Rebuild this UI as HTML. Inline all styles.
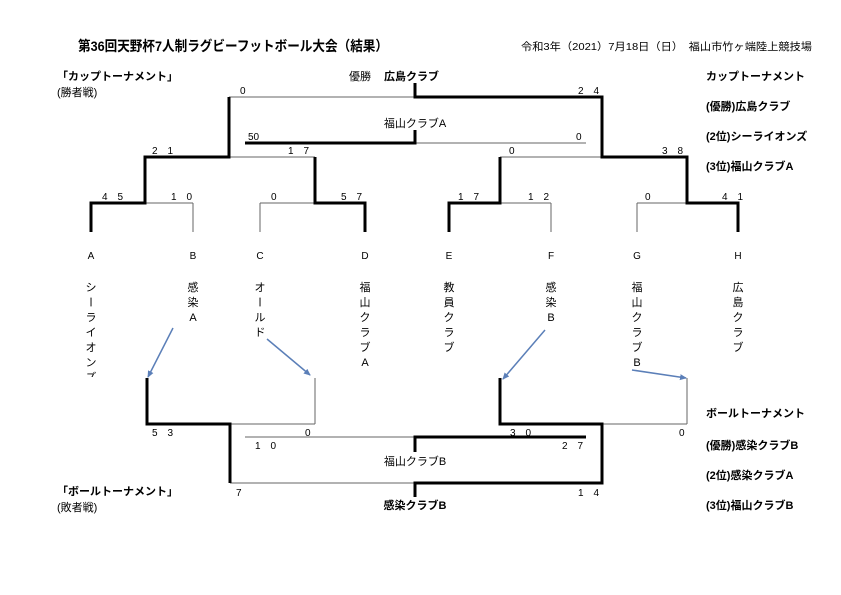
<!DOCTYPE html>
<html><head><meta charset="utf-8"><style>
html,body{margin:0;padding:0;background:#fff}
svg{display:block}
text{font-family:"Liberation Sans","Noto Sans CJK JP",sans-serif;fill:#000}
.b{font-weight:bold}
</style></head><body>
<svg width="841" height="595" viewBox="0 0 841 595" xmlns="http://www.w3.org/2000/svg">
<defs><marker id="ar" markerWidth="8" markerHeight="8" refX="6" refY="3" orient="auto" markerUnits="userSpaceOnUse"><path d="M0,0 L7,3 L0,6 z" fill="#5b7fb8"/></marker></defs>
<text x="78" y="51" font-size="14" class="b" textLength="310" lengthAdjust="spacingAndGlyphs">第36回天野杯7人制ラグビーフットボール大会（結果）</text>
<text x="521" y="50" font-size="10.5" textLength="291" lengthAdjust="spacingAndGlyphs">令和3年（2021）7月18日（日）　福山市竹ヶ端陸上競技場</text>
<text x="57" y="80" font-size="11" class="b">「カップトーナメント」</text>
<text x="57" y="96" font-size="11">(勝者戦)</text>
<text x="349" y="80" font-size="11">優勝</text>
<text x="384" y="80" font-size="11" class="b">広島クラブ</text>
<g font-size="11" class="b">
<text x="706" y="80">カップトーナメント</text>
<text x="706" y="110">(優勝)広島クラブ</text>
<text x="706" y="140">(2位)シーライオンズ</text>
<text x="706" y="170">(3位)福山クラブA</text>
<text x="706" y="417">ボールトーナメント</text>
<text x="706" y="449">(優勝)感染クラブB</text>
<text x="706" y="479">(2位)感染クラブA</text>
<text x="706" y="509">(3位)福山クラブB</text>
</g>
<text x="57" y="495" font-size="11" class="b">「ボールトーナメント」</text>
<text x="57" y="511" font-size="11">(敗者戦)</text>
<g stroke="#666" stroke-width="1" fill="none">
<line x1="229" y1="97" x2="415" y2="97"/>
<line x1="415" y1="143" x2="586" y2="143"/>
<line x1="229" y1="157" x2="315" y2="157"/>
<line x1="500" y1="157" x2="602" y2="157"/>
<line x1="145" y1="203" x2="193" y2="203"/>
<line x1="193" y1="203" x2="193" y2="232"/>
<line x1="260" y1="203" x2="315" y2="203"/>
<line x1="260" y1="203" x2="260" y2="232"/>
<line x1="500" y1="203" x2="551" y2="203"/>
<line x1="551" y1="203" x2="551" y2="232"/>
<line x1="637" y1="203" x2="687" y2="203"/>
<line x1="637" y1="203" x2="637" y2="232"/>
<line x1="315" y1="378" x2="315" y2="424"/>
<line x1="230" y1="424" x2="315" y2="424"/>
<line x1="687" y1="378" x2="687" y2="424"/>
<line x1="602" y1="424" x2="687" y2="424"/>
<line x1="245" y1="437" x2="415" y2="437"/>
<line x1="230" y1="483" x2="415" y2="483"/>
</g>
<g stroke="#000" stroke-width="3" fill="none">
<polyline points="415,83 415,97 602,97 602,157 687,157 687,203 738,203 738,232"/>
<polyline points="245,143 415,143 415,130"/>
<polyline points="91,232 91,203 145,203 145,157 229,157 229,97"/>
<polyline points="315,157 315,203 365,203 365,232"/>
<polyline points="449,232 449,203 500,203 500,157"/>
<polyline points="147,378 147,424 230,424 230,483"/>
<polyline points="500,378 500,424 602,424 602,483 415,483 415,497"/>
<polyline points="415,452 415,437 586,437"/>
</g>
<g font-size="10">
<text x="240" y="94">0</text><text x="578" y="94">2　4</text>
<text x="248" y="140">50</text><text x="576" y="140">0</text>
<text x="152" y="154">2　1</text><text x="288" y="154">1　7</text>
<text x="509" y="154">0</text><text x="662" y="154">3　8</text>
<text x="102" y="200">4　5</text><text x="171" y="200">1　0</text>
<text x="271" y="200">0</text><text x="341" y="200">5　7</text>
<text x="458" y="200">1　7</text><text x="528" y="200">1　2</text>
<text x="645" y="200">0</text><text x="722" y="200">4　1</text>
<text x="152" y="436">5　3</text><text x="305" y="436">0</text>
<text x="510" y="436">3　0</text><text x="679" y="436">0</text>
<text x="255" y="449">1　0</text><text x="562" y="449">2　7</text>
<text x="236" y="496">7</text><text x="578" y="496">1　4</text>
</g>
<text x="415" y="127" font-size="11" text-anchor="middle">福山クラブA</text>
<text x="415" y="465" font-size="11" text-anchor="middle">福山クラブB</text>
<text x="415" y="509" font-size="11" text-anchor="middle" class="b">感染クラブB</text>
<g font-size="10" text-anchor="middle">
<text x="91" y="259">A</text><text x="193" y="259">B</text><text x="260" y="259">C</text><text x="365" y="259">D</text>
<text x="449" y="259">E</text><text x="551" y="259">F</text><text x="637" y="259">G</text><text x="738" y="259">H</text>
</g>
<clipPath id="cp"><rect x="0" y="0" width="841" height="377"/></clipPath>
<g font-size="11" text-anchor="middle" clip-path="url(#cp)">
<text x="91" y="291">シ</text><text x="91" y="306" transform="rotate(90 91 302)">ー</text><text x="91" y="321">ラ</text><text x="91" y="336">イ</text><text x="91" y="351">オ</text><text x="91" y="366">ン</text><text x="91" y="381">ズ</text>
<text x="193" y="291">感</text><text x="193" y="306">染</text><text x="193" y="321">A</text>
<text x="260" y="291">オ</text><text x="260" y="306" transform="rotate(90 260 302)">ー</text><text x="260" y="321">ル</text><text x="260" y="336">ド</text>
<text x="365" y="291">福</text><text x="365" y="306">山</text><text x="365" y="321">ク</text><text x="365" y="336">ラ</text><text x="365" y="351">ブ</text><text x="365" y="366">A</text>
<text x="449" y="291">教</text><text x="449" y="306">員</text><text x="449" y="321">ク</text><text x="449" y="336">ラ</text><text x="449" y="351">ブ</text>
<text x="551" y="291">感</text><text x="551" y="306">染</text><text x="551" y="321">B</text>
<text x="637" y="291">福</text><text x="637" y="306">山</text><text x="637" y="321">ク</text><text x="637" y="336">ラ</text><text x="637" y="351">ブ</text><text x="637" y="366">B</text>
<text x="738" y="291">広</text><text x="738" y="306">島</text><text x="738" y="321">ク</text><text x="738" y="336">ラ</text><text x="738" y="351">ブ</text>
</g>
<g stroke="#5b7fb8" stroke-width="1.5" marker-end="url(#ar)">
<line x1="173" y1="328" x2="148" y2="377"/>
<line x1="267" y1="339" x2="310" y2="375"/>
<line x1="545" y1="330" x2="503" y2="379"/>
<line x1="632" y1="370" x2="686" y2="378"/>
</g>
</svg>
</body></html>
